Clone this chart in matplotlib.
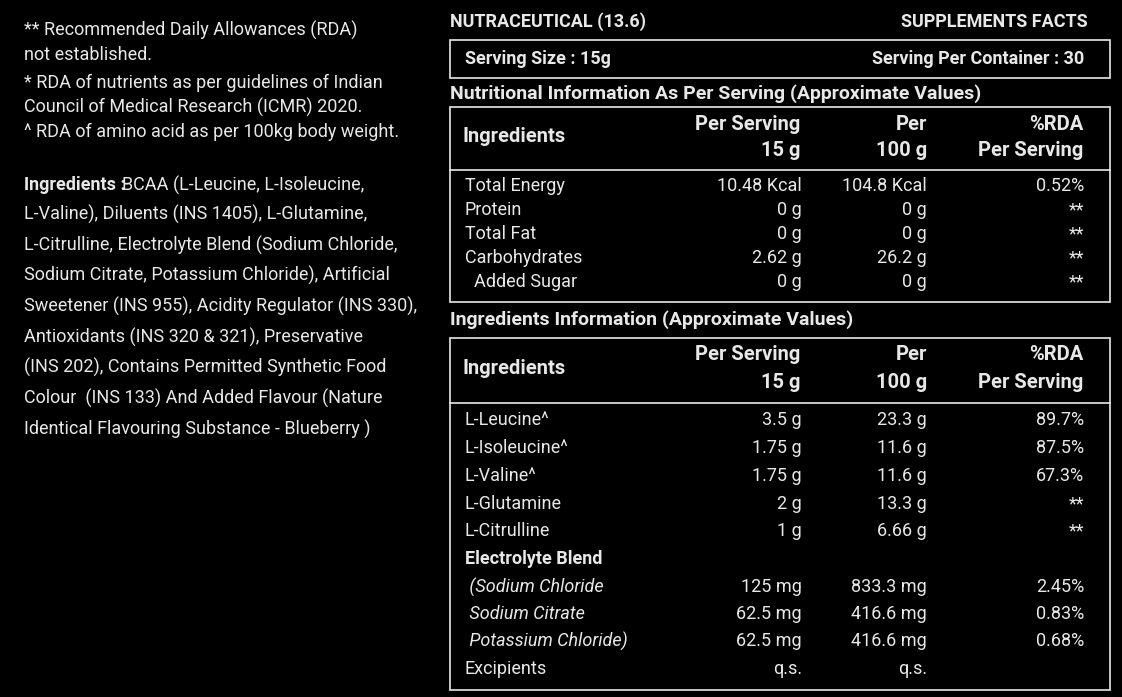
import matplotlib
matplotlib.use("Agg")
import matplotlib.pyplot as plt
from matplotlib.patches import Rectangle

plt.rcParams['font.family'] = ['Liberation Sans Narrow', 'Roboto', 'DejaVu Sans']

left_notes = ["** Recommended Daily Allowances (RDA)", "not established.",
              "* RDA of nutrients as per guidelines of Indian",
              "Council of Medical Research (ICMR) 2020.",
              "^ RDA of amino acid as per 100kg body weight."]
ingr_lines = ["BCAA (L-Leucine, L-Isoleucine,", "L-Valine), Diluents (INS 1405), L-Glutamine,",
              "L-Citrulline, Electrolyte Blend (Sodium Chloride,",
              "Sodium Citrate, Potassium Chloride), Artificial",
              "Sweetener (INS 955), Acidity Regulator (INS 330),",
              "Antioxidants (INS 320 & 321), Preservative",
              "(INS 202), Contains Permitted Synthetic Food",
              "Colour  (INS 133) And Added Flavour (Nature",
              "Identical Flavouring Substance - Blueberry )"]

nut_names = ["Total Energy", "Protein", "Total Fat", "Carbohydrates", "  Added Sugar"]
nut_serv = ["10.48 Kcal", "0 g", "0 g", "2.62 g", "0 g"]
nut_100 = ["104.8 Kcal", "0 g", "0 g", "26.2 g", "0 g"]
nut_rda = ["0.52%", "**", "**", "**", "**"]

ing_names = ["L-Leucine^", "L-Isoleucine^", "L-Valine^", "L-Glutamine", "L-Citrulline",
             "Electrolyte Blend", " (Sodium Chloride", " Sodium Citrate", " Potassium Chloride)", "Excipients"]
ing_serv = ["3.5 g", "1.75 g", "1.75 g", "2 g", "1 g", "", "125 mg", "62.5 mg", "62.5 mg", "q.s."]
ing_100 = ["23.3 g", "11.6 g", "11.6 g", "13.3 g", "6.66 g", "", "833.3 mg", "416.6 mg", "416.6 mg", "q.s."]
ing_rda = ["89.7%", "87.5%", "67.3%", "**", "**", "", "2.45%", "0.83%", "0.68%", ""]
ing_style = ["normal"] * 5 + ["bold"] + ["italic"] * 3 + ["normal"]

fig = plt.figure(figsize=(11.22, 6.97), dpi=100, facecolor='black')
ax = fig.add_axes([0, 0, 1, 1])
ax.set_xlim(0, 1122); ax.set_ylim(697, 0); ax.axis('off')
ax.set_facecolor('black')
W = '#e8e8e8'
fs = 13

def t(x, y, s, ha='left', weight='normal', style='normal', size=fs):
    ax.text(x, y, s, ha=ha, va='center', color=W, fontsize=size, fontweight=weight, fontstyle=style)

for y, s in zip([30, 55, 83, 107, 132], left_notes):
    t(24, y, s)
ys = [185, 214, 245, 275, 306, 337, 367, 398, 429]
ax.text(24, ys[0], "Ingredients : ", color=W, fontsize=fs, fontweight='bold', va='center')
t(122, ys[0], ingr_lines[0])
for y, s in zip(ys[1:], ingr_lines[1:]):
    t(24, y, s)

t(450, 22, "NUTRACEUTICAL (13.6)", weight='bold')
t(1088, 22, "SUPPLEMENTS FACTS", ha='right', weight='bold')
ax.add_patch(Rectangle((450, 40), 660, 38, fill=False, ec=W, lw=1.2))
t(465, 59, "Serving Size : 15g", weight='bold')
t(1084, 59, "Serving Per Container : 30", ha='right', weight='bold')

def table(top, bottom, hy, liney, rows_y, names, a, b, c, styles, title, title_y):
    t(450, title_y, title, weight='bold', size=14)
    ax.add_patch(Rectangle((450, top), 660, bottom - top, fill=False, ec=W, lw=1.2))
    t(463, hy + 13, "Ingredients", weight='bold', size=14.5)
    for x, l1, l2 in [(800, "Per Serving", "15 g"), (927, "Per", "100 g"), (1083, "%RDA", "Per Serving")]:
        t(x, hy, l1, ha='right', weight='bold', size=14.5)
        t(x, hy + 27, l2, ha='right', weight='bold', size=14.5)
    ax.plot([450, 1110], [liney, liney], color=W, lw=1.2)
    for i, y in enumerate(rows_y):
        st = styles[i]
        t(465, y, names[i], weight='bold' if st == 'bold' else 'normal',
          style='italic' if st == 'italic' else 'normal')
        t(802, y, a[i], ha='right'); t(927, y, b[i], ha='right'); t(1084, y, c[i], ha='right')

table(107, 302, 124, 170, [186, 210, 234, 258, 282], nut_names, nut_serv, nut_100, nut_rda,
      ["normal"] * 5, "Nutritional Information As Per Serving (Approximate Values)", 94)
table(338, 690, 355, 403, [420, 448, 476, 504, 531, 559, 587, 614, 641, 669], ing_names,
      ing_serv, ing_100, ing_rda, ing_style, "Ingredients Information (Approximate Values)", 320)

fig.savefig("out.png", dpi=100, facecolor='black')
